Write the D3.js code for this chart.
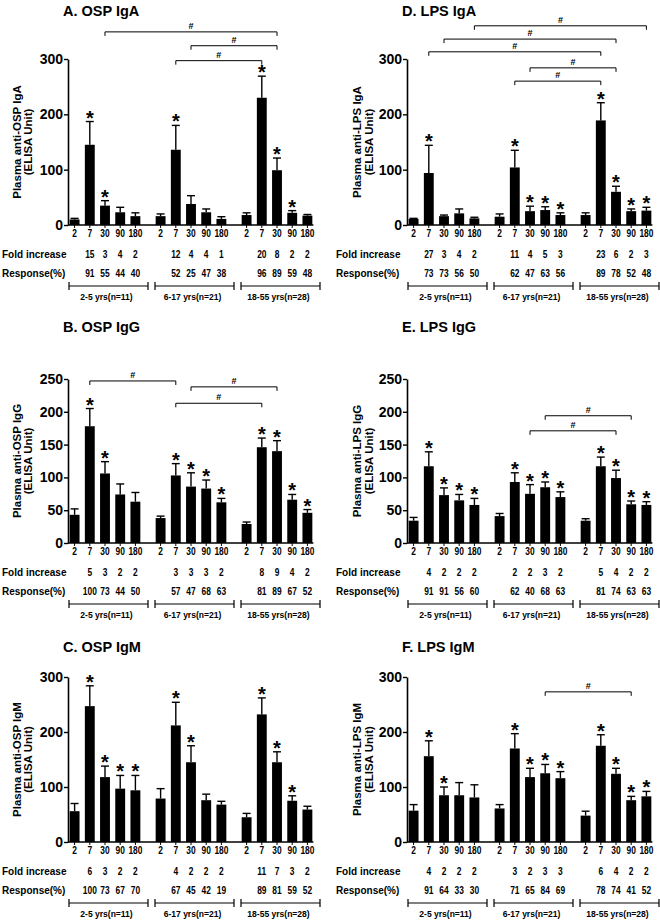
<!DOCTYPE html>
<html><head><meta charset="utf-8">
<script src="https://cdn.jsdelivr.net/npm/d3@7"></script>
<style>
body{margin:0;background:#fff}
svg{display:block}
text{font-family:"Liberation Sans",Arial,Helvetica,sans-serif;font-weight:bold;fill:#000}
</style>
</head><body>
<svg id="chart" width="660" height="922"></svg>
<script>
// ---------- DATA ----------
const days = ["2", "7", "30", "90", "180"];
const groups = ["2-5 yrs(n=11)", "6-17 yrs(n=21)", "18-55 yrs(n=28)"];
const rowLabels = ["Fold increase", "Response(%)"];
const titles = ["A. OSP IgA", "B. OSP IgG", "C. OSP IgM", "D. LPS IgA", "E. LPS IgG", "F. LPS IgM"];
const yTitles = ["Plasma anti-OSP IgA", "Plasma anti-OSP IgG", "Plasma anti-OSP IgM",
                 "Plasma anti-LPS IgA", "Plasma anti-LPS IgG", "Plasma anti-LPS IgM"];
const yTitle2 = "(ELISA Unit)";
const yMax = [300, 250, 300, 300, 250, 300];
const yTickStep = [100, 50, 100, 100, 50, 100];

// means and SEM (rows = age groups, cols = days)
const ospIgaMean = [[10, 145, 35, 23, 16], [16, 136, 38, 23, 11], [18, 230, 99, 22, 17]];
const ospIgaSem  = [[2, 42, 9, 9, 6], [4, 44, 15, 6, 4], [4, 39, 22, 4, 2]];
const ospIggMean = [[43, 178, 106, 74, 63], [38, 103, 86, 83, 62], [29, 146, 140, 66, 46]];
const ospIggSem  = [[9, 27, 18, 16, 14], [3, 18, 21, 13, 6], [3, 14, 16, 8, 5]];
const ospIgmMean = [[56, 247, 118, 97, 94], [79, 212, 145, 76, 68], [45, 232, 145, 75, 59]];
const ospIgmSem  = [[14, 37, 20, 24, 27], [18, 42, 30, 11, 6], [7, 30, 19, 9, 6]];
const lpsIgaMean = [[11, 94, 16, 21, 12], [15, 104, 25, 27, 18], [18, 189, 60, 25, 26]];
const lpsIgaSem  = [[1, 50, 2, 8, 2], [5, 31, 9, 6, 4], [4, 32, 10, 4, 6]];
const lpsIggMean = [[34, 117, 73, 65, 58], [41, 93, 75, 85, 70], [34, 117, 99, 59, 58]];
const lpsIggSem  = [[5, 22, 11, 9, 10], [4, 14, 14, 8, 8], [3, 14, 12, 5, 5]];
const lpsIgmMean = [[57, 156, 85, 85, 81], [61, 170, 118, 125, 116], [48, 175, 124, 76, 83]];
const lpsIgmSem  = [[11, 28, 15, 23, 23], [7, 27, 16, 16, 12], [8, 20, 10, 7, 9]];

// significance vs day 2 (*)
const ospIgaStar = [[0,1,1,0,0],[0,1,0,0,0],[0,1,1,1,0]];
const ospIggStar = [[0,1,1,0,0],[0,1,1,1,1],[0,1,1,1,1]];
const ospIgmStar = [[0,1,1,1,1],[0,1,1,0,0],[0,1,1,1,0]];
const lpsIgaStar = [[0,1,0,0,0],[0,1,1,1,1],[0,1,1,1,1]];
const lpsIggStar = [[0,1,1,1,1],[0,1,1,1,1],[0,1,1,1,1]];
const lpsIgmStar = [[0,1,1,0,0],[0,1,1,1,1],[0,1,1,1,1]];

// fold increase (days 7, 30, 90, 180)
const ospIgaFold = [[15,3,4,2],[12,4,4,1],[20,8,2,2]];
const ospIggFold = [[5,3,2,2],[3,3,3,2],[8,9,4,2]];
const ospIgmFold = [[6,3,2,2],[4,2,2,2],[11,7,3,2]];
const lpsIgaFold = [[27,3,4,2],[11,4,5,3],[23,6,2,3]];
const lpsIggFold = [[4,2,2,2],[2,2,3,2],[5,4,2,2]];
const lpsIgmFold = [[4,2,2,2],[3,2,3,3],[6,4,2,2]];

// responders (%)
const ospIgaResp = [[91,55,44,40],[52,25,47,38],[96,89,59,48]];
const ospIggResp = [[100,73,44,50],[57,47,68,63],[81,89,67,52]];
const ospIgmResp = [[100,73,67,70],[67,45,42,19],[89,81,59,52]];
const lpsIgaResp = [[73,73,56,50],[62,47,63,56],[89,78,52,48]];
const lpsIggResp = [[91,91,56,60],[62,40,68,63],[81,74,63,63]];
const lpsIgmResp = [[91,64,33,30],[71,65,84,69],[78,74,41,52]];

// between-group comparisons (#): [groupA, dayA, groupB, dayB, bracket level in ELISA units]
const ospIgaComp = [[0,2,2,2,349],[1,2,2,2,324],[1,1,2,1,297]];
const ospIggComp = [[0,1,1,1,247],[1,2,2,2,238],[1,1,2,1,213]];
const ospIgmComp = [];
const lpsIgaComp = [[0,4,2,4,360],[0,2,2,2,336],[0,1,2,1,313],[1,2,2,2,284],[1,1,2,1,260]];
const lpsIggComp = [[1,3,2,3,194],[1,2,2,2,171]];
const lpsIgmComp = [[1,3,2,3,273]];

// ---------- LAYOUT ----------
const colAxisX = [68, 407];
const colTitleX = [63, 402];
const colLabelX = [2, 336];
const colYT1 = [21, 361];
const colYT2 = [32, 373];
const rowY0 = [225, 543, 842];
const rowYTop = [59, 379, 677];
const rowTitleY = [16, 332, 652];

const panels = [
  {k:0, col:0, row:0, mean:ospIgaMean, sem:ospIgaSem, star:ospIgaStar, fold:ospIgaFold, resp:ospIgaResp, comp:ospIgaComp},
  {k:1, col:0, row:1, mean:ospIggMean, sem:ospIggSem, star:ospIggStar, fold:ospIggFold, resp:ospIggResp, comp:ospIggComp},
  {k:2, col:0, row:2, mean:ospIgmMean, sem:ospIgmSem, star:ospIgmStar, fold:ospIgmFold, resp:ospIgmResp, comp:ospIgmComp},
  {k:3, col:1, row:0, mean:lpsIgaMean, sem:lpsIgaSem, star:lpsIgaStar, fold:lpsIgaFold, resp:lpsIgaResp, comp:lpsIgaComp},
  {k:4, col:1, row:1, mean:lpsIggMean, sem:lpsIggSem, star:lpsIggStar, fold:lpsIggFold, resp:lpsIggResp, comp:lpsIggComp},
  {k:5, col:1, row:2, mean:lpsIgmMean, sem:lpsIgmSem, star:lpsIgmStar, fold:lpsIgmFold, resp:lpsIgmResp, comp:lpsIgmComp}
];

const svg = d3.select("#chart");

// narrow numeric labels
function num(g, x, y, t, size) {
  g.append("text").attr("transform", `translate(${x},${y}) scale(0.8,1)`)
    .attr("text-anchor", "middle").style("font-size", size + "px").text(t);
}

panels.forEach(p => {
  const ax = colAxisX[p.col], y0 = rowY0[p.row], yTop = rowYTop[p.row];
  const g = svg.append("g");
  const y = d3.scaleLinear().domain([0, yMax[p.k]]).range([y0, yTop]);
  const xg = d3.scaleBand().domain(groups).range([ax - 1, ax - 1 + 248]).paddingInner(0.1163).paddingOuter(0);
  const xd = d3.scaleBand().domain(days).range([0, xg.bandwidth()]).paddingInner(0.35).paddingOuter(0.175);
  const cx = (gi, di) => xg(groups[gi]) + xd(days[di]) + xd.bandwidth() / 2;

  // title
  g.append("text").attr("x", colTitleX[p.col]).attr("y", rowTitleY[p.row])
    .style("font-size", "14.5px").text(titles[p.k]);

  // x axis line with ticks at each bar
  const xEnd = cx(2, 4) + 6;
  g.append("line").attr("x1", ax).attr("x2", xEnd).attr("y1", y0).attr("y2", y0)
    .attr("stroke", "#000").attr("stroke-width", 1.4);
  groups.forEach((grp, gi) => days.forEach((d, di) => {
    const x = cx(gi, di);
    g.append("line").attr("x1", x).attr("x2", x).attr("y1", y0).attr("y2", y0 + 3)
      .attr("stroke", "#000").attr("stroke-width", 1);
  }));

  // y axis
  const ticks = d3.range(0, yMax[p.k] + 1, yTickStep[p.k]);
  const yAxis = g.append("g").attr("transform", `translate(${ax},0)`)
    .call(d3.axisLeft(y).tickValues(ticks).tickSize(4).tickSizeOuter(0).tickPadding(1).tickFormat(d3.format("d")));
  yAxis.select(".domain").attr("stroke", "#000").attr("stroke-width", 1.6);
  yAxis.selectAll(".tick line").attr("stroke", "#000").attr("stroke-width", 1.4);
  yAxis.selectAll(".tick text").style("font-size", "14px").style("font-family", "'Liberation Sans',Arial,sans-serif").style("font-weight", "bold").attr("fill", "#000");

  // y axis title
  const ymid = (y0 + yTop) / 2;
  g.append("text").attr("transform", `translate(${colYT1[p.col]},${ymid}) rotate(-90)`)
    .attr("text-anchor", "middle").style("font-size", "11.5px").text(yTitles[p.k]);
  g.append("text").attr("transform", `translate(${colYT2[p.col]},${ymid}) rotate(-90)`)
    .attr("text-anchor", "middle").style("font-size", "11.5px").text(yTitle2);

  // bars, error bars, stars
  groups.forEach((grp, gi) => {
    days.forEach((d, di) => {
      const m = p.mean[gi][di], s = p.sem[gi][di];
      const x = cx(gi, di);
      g.append("rect").attr("x", x - xd.bandwidth() / 2).attr("width", xd.bandwidth())
        .attr("y", y(m)).attr("height", y(0) - y(m)).attr("fill", "#000");
      const ct = y(m + s);
      g.append("line").attr("x1", x).attr("x2", x).attr("y1", y(m)).attr("y2", ct)
        .attr("stroke", "#000").attr("stroke-width", 1.4);
      g.append("line").attr("x1", x - 4).attr("x2", x + 4).attr("y1", ct).attr("y2", ct)
        .attr("stroke", "#000").attr("stroke-width", 1.4);
      if (p.star[gi][di]) {
        g.append("text").attr("x", x).attr("y", ct + 3).attr("text-anchor", "middle")
          .style("font-size", "20px").text("*");
      }
      num(g, x, y0 + 12, d, 10.5);
      if (di > 0) {
        num(g, x, y0 + 33, p.fold[gi][di - 1], 10.5);
        num(g, x, y0 + 52, p.resp[gi][di - 1], 10.5);
      }
    });
    // group bracket
    const gc = xg(grp) + xg.bandwidth() / 2;
    const bx1 = gc - 36, bx2 = gc + 43, by = y0 + 61;
    g.append("path").attr("d", `M${bx1},${by}H${bx2}M${bx1},${by - 4}V${by + 4}M${bx2},${by - 4}V${by + 4}`)
      .attr("stroke", "#000").attr("stroke-width", 1.2).attr("fill", "none");
    g.append("text").attr("transform", `translate(${(bx1 + bx2) / 2 - 2},${y0 + 75}) scale(0.9,1)`)
      .attr("text-anchor", "middle").style("font-size", "9.5px").text(grp);
  });

  // row labels
  g.append("text").attr("x", colLabelX[p.col]).attr("y", y0 + 33).style("font-size", "10px").text(rowLabels[0]);
  g.append("text").attr("x", colLabelX[p.col]).attr("y", y0 + 52).style("font-size", "10px").text(rowLabels[1]);

  // comparison brackets
  p.comp.forEach(c => {
    const x1 = cx(c[0], c[1]), x2 = cx(c[2], c[3]), yy = y(c[4]);
    g.append("path").attr("d", `M${x1},${yy + 4}V${yy}H${x2}V${yy + 4}`)
      .attr("stroke", "#000").attr("stroke-width", 1).attr("fill", "none");
    g.append("text").attr("x", (x1 + x2) / 2).attr("y", yy - 3).attr("text-anchor", "middle")
      .style("font-size", "9px").text("#");
  });
});
</script>
</body></html>
